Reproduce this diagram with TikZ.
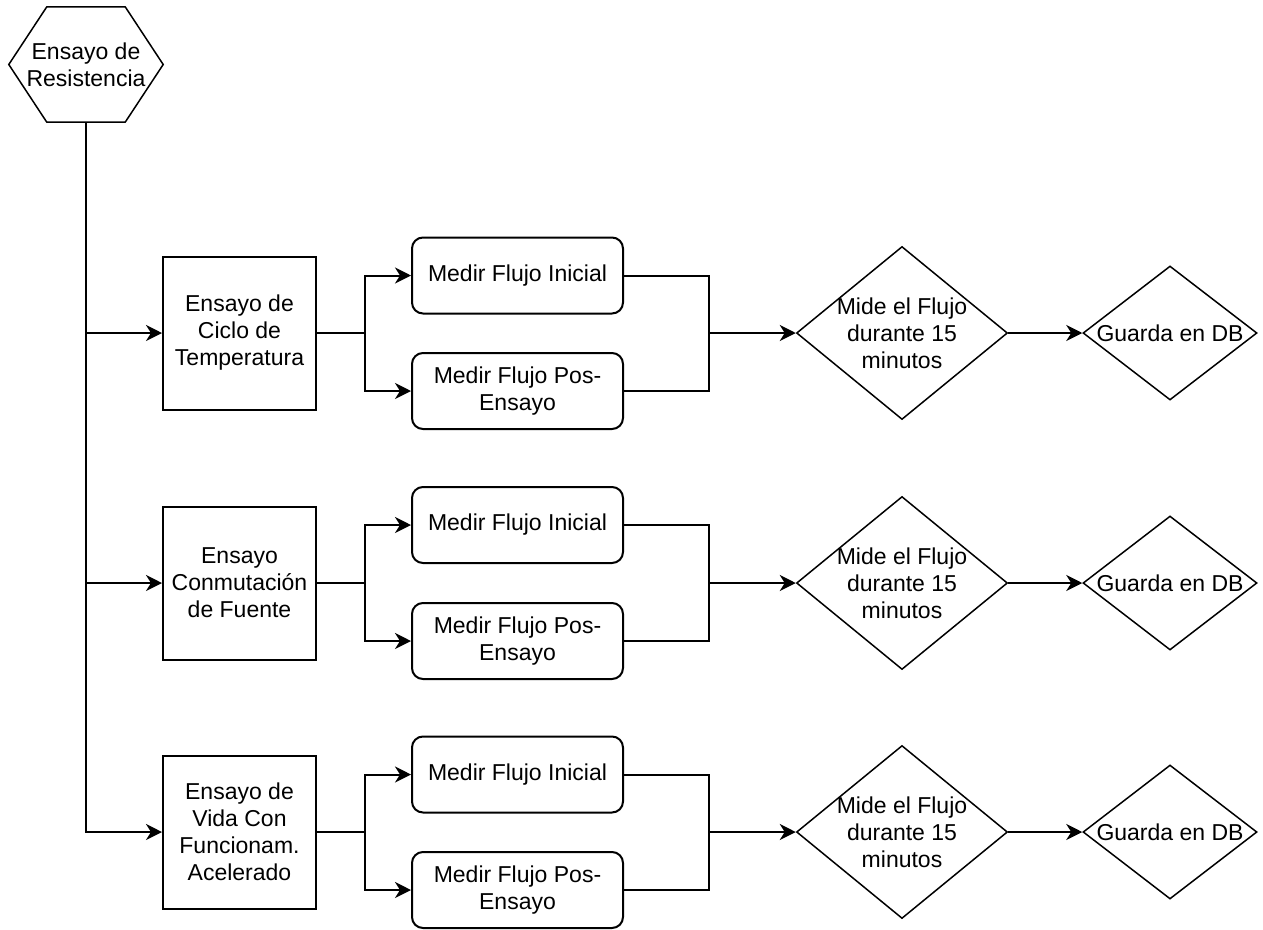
\documentclass[tikz,border=0pt]{standalone}
\usepackage{fontspec}
\setmainfont{Liberation Sans}
\usetikzlibrary{arrows.meta, positioning, shapes.geometric, calc}

\begin{document}
\begin{tikzpicture}[x=1pt, y=-1pt,
                every node/.style={font=\fontsize{23}{27}\selectfont},
                test/.style={draw, line width=2pt, minimum width=153pt, minimum height=153pt, align=center, inner sep=0pt},
                medir/.style={draw, line width=2pt, rounded corners=11pt, minimum width=211pt, minimum height=76pt, align=center, inner sep=0pt},
                mide/.style={draw, diamond, line width=1.5pt, minimum width=211pt, minimum height=173pt, inner sep=0pt},
                guarda/.style={draw, diamond, line width=1.5pt, minimum width=174pt, minimum height=134pt, inner sep=0pt},
                line/.style={line width=2pt},
                arrow/.style={line width=2pt, -{Stealth[length=16pt, width=16pt, inset=5pt]}}]

                \useasboundingbox (0,0) rectangle (1263,929);

                % Start
                \node[minimum width=154pt, minimum height=115pt, align=center, inner sep=0pt] (res) at (86,64.5) {Ensayo de\\Resistencia};
                \draw[line width=1.5pt] (res.west) -- ([xshift=38pt]res.north west) -- ([xshift=-38pt]res.north east)
                    -- (res.east) -- ([xshift=-38pt]res.south east) -- ([xshift=38pt]res.south west) -- cycle;

                % Entities
                \node[test] (t1) at (239.5,333) {Ensayo de\\Ciclo de\\Temperatura};
                \node[medir] (ini1) at (517.5,275.5) {Medir Flujo Inicial};
                \node[medir] (pos1) at (517.5,391) {Medir Flujo Pos-\\Ensayo};
                \node[mide, label={[align=center]center:Mide el Flujo\\durante 15\\minutos}] (mide1) at (902,333) {};
                \node[guarda, label={center:Guarda en DB}] (db1) at (1170,333) {};

                \node[test] (t2) at (239.5,583) {Ensayo\\Conmutación\\de Fuente};
                \node[medir] (ini2) at (517.5,525) {Medir Flujo Inicial};
                \node[medir] (pos2) at (517.5,641) {Medir Flujo Pos-\\Ensayo};
                \node[mide, label={[align=center]center:Mide el Flujo\\durante 15\\minutos}] (mide2) at (902,583) {};
                \node[guarda, label={center:Guarda en DB}] (db2) at (1170,583) {};

                \node[test] (t3) at (239.5,832) {Ensayo de\\Vida Con\\Funcionam.\\Acelerado};
                \node[medir] (ini3) at (517.5,774.5) {Medir Flujo Inicial};
                \node[medir] (pos3) at (517.5,890) {Medir Flujo Pos-\\Ensayo};
                \node[mide, label={[align=center]center:Mide el Flujo\\durante 15\\minutos}] (mide3) at (902,832) {};
                \node[guarda, label={center:Guarda en DB}] (db3) at (1170,832) {};

                % Main trunk
                \draw[arrow] (res.south) |- (t3.west);
                \draw[arrow] (res.south |- t1.west) -- (t1.west);
                \draw[arrow] (res.south |- t2.west) -- (t2.west);

                % Splits and joins
                \coordinate (s1) at ($(t1.east)+(47.5,0)$);
                \coordinate (j1) at ($(mide1.west)+(-87,0)$);
                \draw[line] (t1.east) -- (s1);
                \draw[arrow] (s1) |- (ini1.west);
                \draw[arrow] (s1) |- (pos1.west);
                \draw[line] (ini1.east) -| (j1);
                \draw[line] (pos1.east) -| (j1);
                \draw[arrow] (j1) -- (mide1.west);
                \draw[arrow] (mide1.east) -- (db1.west);

                \coordinate (s2) at ($(t2.east)+(47.5,0)$);
                \coordinate (j2) at ($(mide2.west)+(-87,0)$);
                \draw[line] (t2.east) -- (s2);
                \draw[arrow] (s2) |- (ini2.west);
                \draw[arrow] (s2) |- (pos2.west);
                \draw[line] (ini2.east) -| (j2);
                \draw[line] (pos2.east) -| (j2);
                \draw[arrow] (j2) -- (mide2.west);
                \draw[arrow] (mide2.east) -- (db2.west);

                \coordinate (s3) at ($(t3.east)+(47.5,0)$);
                \coordinate (j3) at ($(mide3.west)+(-87,0)$);
                \draw[line] (t3.east) -- (s3);
                \draw[arrow] (s3) |- (ini3.west);
                \draw[arrow] (s3) |- (pos3.west);
                \draw[line] (ini3.east) -| (j3);
                \draw[line] (pos3.east) -| (j3);
                \draw[arrow] (j3) -- (mide3.west);
                \draw[arrow] (mide3.east) -- (db3.west);
\end{tikzpicture}
\end{document}
